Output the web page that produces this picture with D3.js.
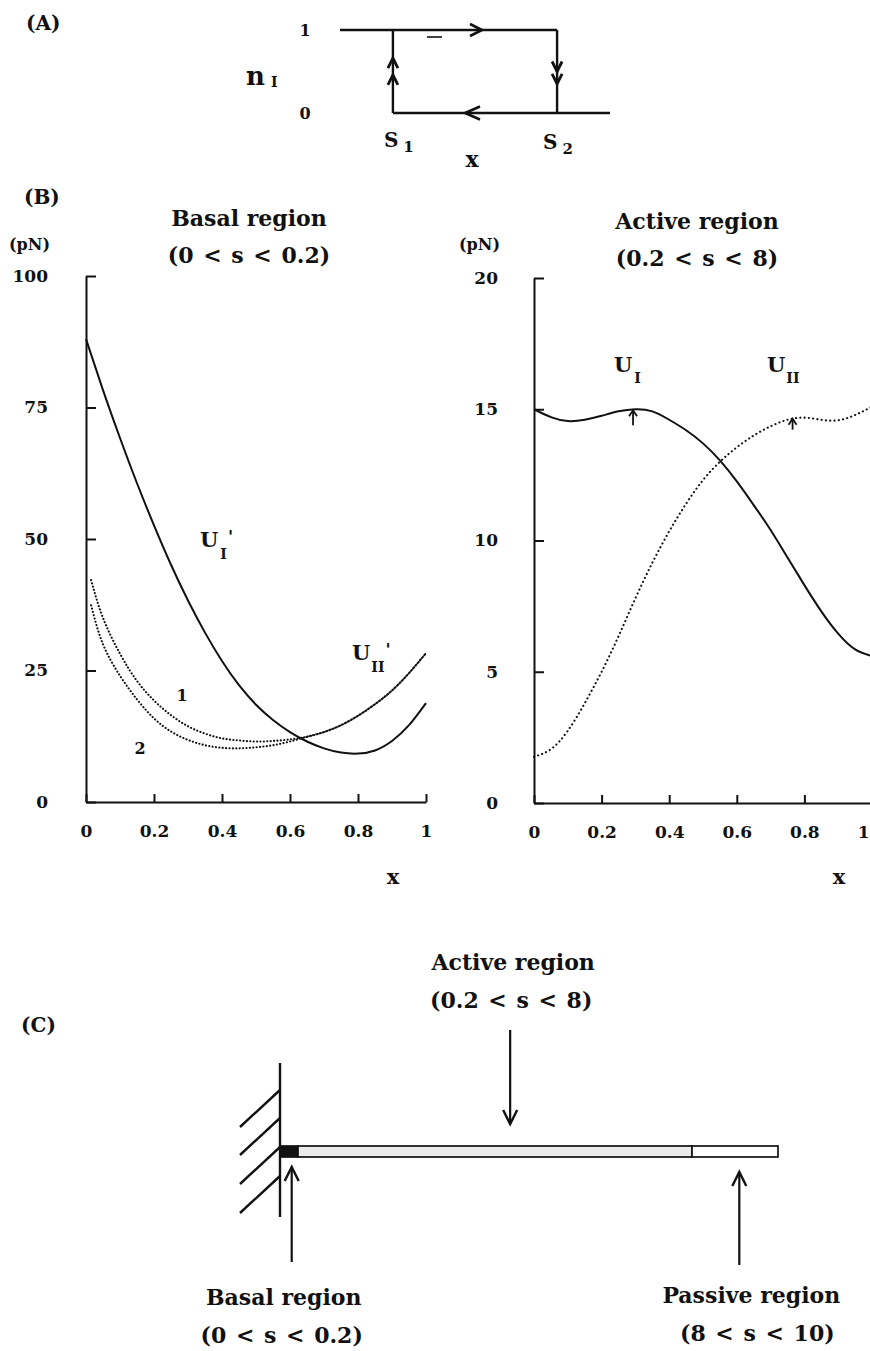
<!DOCTYPE html>
<html>
<head>
<meta charset="utf-8">
<script src="https://cdn.jsdelivr.net/npm/d3@7"></script>
<style>
body { margin: 0; background: #fff; }
svg { display: block; }
text { font-family: "DejaVu Serif", serif; font-weight: bold; fill: #111; }
</style>
</head>
<body>
<svg id="fig" width="870" height="1351"></svg>
<script>
// ---- data ----
const gridX   = [0, 0.05, 0.1, 0.15, 0.2, 0.25, 0.3, 0.35, 0.4, 0.45, 0.5, 0.55, 0.6, 0.65, 0.7, 0.75, 0.8, 0.85, 0.9, 0.95, 1];
const dottedX = [0.015, 0.05, 0.1, 0.15, 0.2, 0.25, 0.3, 0.35, 0.4, 0.45, 0.5, 0.55, 0.6, 0.65, 0.7, 0.75, 0.8, 0.85, 0.9, 0.95, 1];

// (B) basal region, pN
const basalUI   = [88, 78.3, 69.2, 60.6, 52.6, 45.1, 38.3, 32.2, 26.8, 22.2, 18.5, 15.6, 13.3, 11.5, 10.2, 9.4, 9.2, 9.8, 11.6, 14.6, 18.8];
const basalUII1 = [42.2, 35, 28.2, 23, 19.3, 16.5, 14.4, 13, 12.1, 11.7, 11.5, 11.6, 11.9, 12.4, 13.3, 14.6, 16.4, 18.6, 21.2, 24.5, 28.3];
const basalUII2 = [37.4, 30, 24, 19.5, 15.9, 13.4, 11.8, 10.8, 10.3, 10.2, 10.4, 10.8, 11.5, 12.4, 13.3, 14.6, 16.4, 18.6, 21.2, 24.5, 28.3];
// (B) active region, pN
const activeUI  = [15.0, 14.7, 14.55, 14.6, 14.75, 14.92, 15.0, 14.92, 14.6, 14.2, 13.7, 13.05, 12.25, 11.35, 10.4, 9.35, 8.3, 7.3, 6.45, 5.85, 5.6];
const activeUII = [1.76, 2.05, 2.75, 3.8, 5.0, 6.35, 7.8, 9.15, 10.35, 11.4, 12.3, 13.0, 13.55, 14.0, 14.35, 14.6, 14.68, 14.6, 14.58, 14.78, 15.1];

const xTicks       = [0, 0.2, 0.4, 0.6, 0.8, 1];
const basalYTicks  = [0, 25, 50, 75, 100];
const activeYTicks = [0, 5, 10, 15, 20];

// (A) hysteresis switch points
const switchS1 = 0.196, switchS2 = 0.804;

// (C) regions along the flagellum
const regionNames  = ["Basal region", "Active region", "Passive region"];
const regionRanges = ["(0 < s < 0.2)", "(0.2 < s < 8)", "(8 < s < 10)"];
const regionBounds = [0, 0.2, 8, 10];
const regionArrowS = [0.13, 4.4, 9.1];

// ---- drawing ----
const ink = "#111";
const svg = d3.select("#fig");

function arrowHead(g, tip, dir, len, half, w) {
	var bx = tip[0] - dir[0]*len, by = tip[1] - dir[1]*len;
	var px = -dir[1], py = dir[0];
	g.append("path")
		.attr("d", "M"+(bx+px*half)+","+(by+py*half)+"L"+tip[0]+","+tip[1]+"L"+(bx-px*half)+","+(by-py*half))
		.attr("fill", "none")
		.attr("stroke", ink)
		.attr("stroke-width", w)
		.attr("stroke-linejoin", "miter");
}

function seg(g, x1, y1, x2, y2, w) {
	g.append("line")
		.attr("x1", x1).attr("y1", y1).attr("x2", x2).attr("y2", y2)
		.attr("stroke", ink).attr("stroke-width", w || 2);
}

function label(g, x, y, txt, size, anchor) {
	return g.append("text")
		.attr("x", x).attr("y", y)
		.attr("font-size", size)
		.attr("text-anchor", anchor || "start")
		.text(txt);
}

// letter with subscript and optional prime
function subLabel(g, x, y, main, sub, prime, size, subDx, subDy, subSize) {
	var t = g.append("text").attr("x", x).attr("y", y).attr("font-size", size);
	t.append("tspan").text(main);
	t.append("tspan").attr("font-size", subSize || size*0.65).attr("dx", subDx).attr("dy", subDy).text(sub);
	if (prime) t.append("tspan").attr("font-size", size*0.8).attr("dx", 1).attr("dy", -size*0.8).text("'");
	return t;
}

// ===== (A) =====
const gA = svg.append("g");
label(gA, 26, 30, "(A)", 20);
const xA = d3.scaleLinear().domain([0, 1]).range([340, 610]);
const yA = d3.scaleLinear().domain([0, 1]).range([113, 30]);
const lineA = d3.line().x(d => xA(d[0])).y(d => yA(d[1]));
[
	[[0, 1], [switchS2, 1]],
	[[switchS2, 1], [switchS2, 0]],
	[[1, 0], [switchS1, 0]],
	[[switchS1, 0], [switchS1, 1]]
].forEach(p => {
	gA.append("path").attr("d", lineA(p)).attr("fill", "none").attr("stroke", ink).attr("stroke-width", 2.4);
});
arrowHead(gA, [xA(0.526), yA(1)], [1, 0], 12, 6, 2.6);
arrowHead(gA, [xA(0.463), yA(0)], [-1, 0], 15, 6.5, 2.6);
arrowHead(gA, [xA(switchS1), yA(0.66)], [0, -1], 10, 5, 2.8);
arrowHead(gA, [xA(switchS1), yA(0.46)], [0, -1], 10, 5, 2.8);
arrowHead(gA, [xA(switchS2), yA(0.5)], [0, 1], 10, 5, 2.8);
arrowHead(gA, [xA(switchS2), yA(0.35)], [0, 1], 10, 5, 2.8);
seg(gA, 427, 37, 442, 37, 1.6);
label(gA, 305, yA(1) + 6, "1", 16, "middle");
label(gA, 305, yA(0) + 6, "0", 16, "middle");
subLabel(gA, 246, 85, "n", "I", false, 26, 6, 2, 14);
subLabel(gA, xA(switchS1) - 9, 147, "S", "1", false, 20, 5, 5, 15);
subLabel(gA, xA(switchS2) - 14, 149, "S", "2", false, 20, 5, 5, 15);
label(gA, 472, 167, "x", 22, "middle");

// ===== (B) =====
label(svg, 24, 204, "(B)", 20);

function drawPanel(cfg) {
	var g = svg.append("g");
	var x = d3.scaleLinear().domain([0, 1]).range(cfg.xr);
	var y = d3.scaleLinear().domain(cfg.yd).range(cfg.yr);

	var ax = g.append("g").attr("transform", "translate(0," + cfg.yr[0] + ")")
		.call(d3.axisBottom(x).tickValues(xTicks).tickSize(-8).tickSizeOuter(0).tickPadding(23)
			.tickFormat(d => String(d)));
	var ay = g.append("g").attr("transform", "translate(" + cfg.xr[0] + ",0)")
		.call(d3.axisLeft(y).tickValues(cfg.yTicks).tickSize(-10).tickSizeOuter(0).tickPadding(cfg.yPad));
	[ax, ay].forEach(a => {
		a.attr("font-family", null).attr("font-size", 17);
		a.selectAll("path, line").attr("stroke", ink).attr("stroke-width", 2);
		a.selectAll("text").attr("fill", ink);
	});
	// last x label hugs the page edge when the axis runs past it
	if (cfg.clipLast) {
		ax.selectAll(".tick").filter(d => d === 1).select("text")
			.attr("text-anchor", "end").attr("x", 869 - cfg.xr[1]);
	}

	label(g, cfg.pnX, 250, "(pN)", 16);
	label(g, cfg.titleX, cfg.titleY, cfg.title, 22, "middle");
	label(g, cfg.titleX, cfg.titleY + 37, cfg.range, 22, "middle").attr("word-spacing", 2);
	label(g, x(1) - 33, 884, "x", 21, "middle");

	var line = d3.line().curve(d3.curveNatural).x(d => x(d[0])).y(d => y(d[1]));
	cfg.series.forEach(s => {
		g.append("path")
			.attr("d", line(d3.zip(s.x, s.v)))
			.attr("fill", "none")
			.attr("stroke", ink)
			.attr("stroke-width", s.dotted ? 2.1 : 2)
			.attr("stroke-linecap", s.dotted ? "round" : "butt")
			.attr("stroke-dasharray", s.dotted ? s.dash : null);
	});
	return {g: g, x: x, y: y};
}

const left = drawPanel({
	xr: [86, 426], yr: [802, 276], yd: [0, 100], yTicks: basalYTicks, yPad: 38,
	pnX: 9, title: "Basal region", range: "(0 < s < 0.2)", titleX: 249, titleY: 226,
	series: [
		{x: gridX, v: basalUI},
		{x: dottedX, v: basalUII1, dotted: true, dash: "0.1 3.3"},
		{x: dottedX, v: basalUII2, dotted: true, dash: "0.1 3.3"}
	]
});
subLabel(left.g, 200, 547, "U", "I", true, 21, 2, 12, 14);
subLabel(left.g, 352, 660, "U", "II", true, 21, 1, 12, 14);
label(left.g, 182, 701, "1", 16, "middle");
label(left.g, 140, 754, "2", 16, "middle");

const right = drawPanel({
	xr: [534, 872], yr: [803, 278], yd: [0, 20], yTicks: activeYTicks, yPad: 36, clipLast: true,
	pnX: 459, title: "Active region", range: "(0.2 < s < 8)", titleX: 697, titleY: 229,
	series: [
		{x: gridX, v: activeUI},
		{x: gridX, v: activeUII, dotted: true, dash: "0.1 4.2"}
	]
});
subLabel(right.g, 614, 372, "U", "I", false, 21, 2, 11, 14);
subLabel(right.g, 767, 372, "U", "II", false, 21, 1, 11, 14);
// small arrows marking the maxima
[[0.293, 15.0, 15], [0.765, 14.68, 11]].forEach(m => {
	var px = right.x(m[0]), py = right.y(m[1]) + 1;
	seg(right.g, px, py, px, py + m[2], 1.8);
	arrowHead(right.g, [px, py], [0, -1], 6, 4, 1.8);
});

// ===== (C) =====
const gC = svg.append("g");
label(gC, 21, 1032, "(C)", 20);
const sC = d3.scaleLinear().domain(regionBounds).range([280, 298, 692, 778]);
const barTop = 1146, barH = 11;
// wall with hatching
seg(gC, sC(0), 1063, sC(0), 1217, 2.4);
[1090, 1118, 1147, 1176].forEach(yy => seg(gC, sC(0), yy, sC(0) - 40, yy + 37, 2.4));
// flagellum segments
const fills = ["#111", "#ebebeb", "#fff"];
gC.selectAll("rect.seg").data(d3.range(3)).enter().append("rect")
	.attr("class", "seg")
	.attr("x", i => sC(regionBounds[i]))
	.attr("y", barTop)
	.attr("width", i => sC(regionBounds[i + 1]) - sC(regionBounds[i]))
	.attr("height", barH)
	.attr("fill", i => fills[i])
	.attr("stroke", ink)
	.attr("stroke-width", 1.7);

// pointers and labels
const arrowSpec = [
	{y0: 1262, tip: 1167, dir: -1, ty: 1305, dx: [-8, -10]},
	{y0: 1030, tip: 1124, dir: 1, ty: 970, dx: [3, 1]},
	{y0: 1265, tip: 1172, dir: -1, ty: 1303, dx: [12, 18]}
];
arrowSpec.forEach((a, i) => {
	var px = sC(regionArrowS[i]);
	seg(gC, px, a.y0, px, a.tip, 2.2);
	arrowHead(gC, [px, a.tip], [0, a.dir], 14, 7, 2.4);
	label(gC, px + a.dx[0], a.ty, regionNames[i], 22, "middle");
	label(gC, px + a.dx[1], a.ty + 38, regionRanges[i], 22, "middle").attr("word-spacing", 2);
});
</script>
</body>
</html>
